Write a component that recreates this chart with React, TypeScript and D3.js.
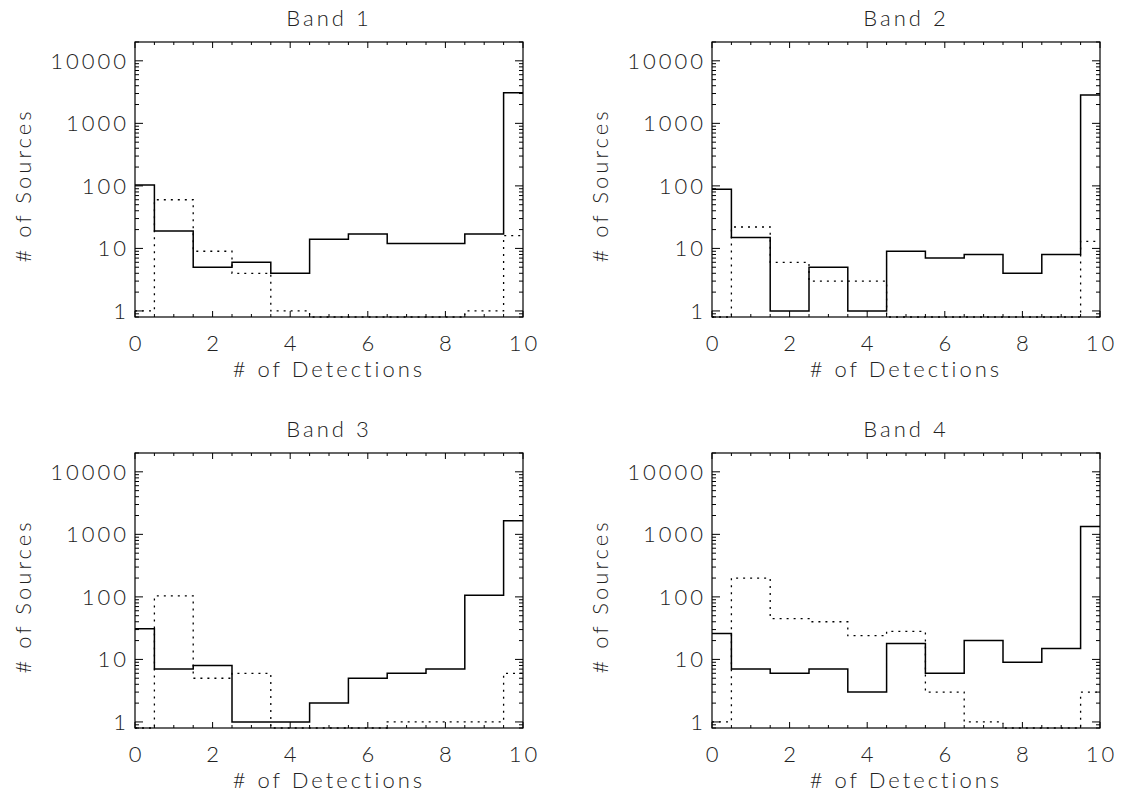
import React, { useEffect, useRef } from 'react';
import * as d3 from 'd3';

// number of detections (bin centres)
const detections = [0, 1, 2, 3, 4, 5, 6, 7, 8, 9, 10];
const xTicks = [0, 2, 4, 6, 8, 10];
const yTicks = [1, 10, 100, 1000, 10000];

const panelTitles = ['Band 1', 'Band 2', 'Band 3', 'Band 4'];

// solid histograms
const band1Solid = [103, 19, 5, 6, 4, 14, 17, 12, 12, 17, 3100];
const band2Solid = [88, 15, 1, 5, 1, 9, 7, 8, 4, 8, 2850];
const band3Solid = [31, 7, 8, 1, 1, 2, 5, 6, 7, 106, 1650];
const band4Solid = [26, 7, 6, 7, 3, 18, 6, 20, 9, 15, 1330];

// dotted histograms
const band1Dotted = [1, 60, 9, 4, 1, 0, 0, 0, 0, 1, 16];
const band2Dotted = [0, 22, 6, 3, 3, 0, 0, 0, 0, 0, 13];
const band3Dotted = [0, 104, 5, 6, 0, 0, 0, 1, 1, 1, 6];
const band4Dotted = [1, 200, 45, 40, 24, 28, 3, 1, 0, 0, 3];

const solidSeries = [band1Solid, band2Solid, band3Solid, band4Solid];
const dottedSeries = [band1Dotted, band2Dotted, band3Dotted, band4Dotted];

const FONT = 'Lato, "DejaVu Sans", sans-serif';

const App = () => {
  const svgRef = useRef<SVGSVGElement>(null);

  useEffect(() => {
    const svg = d3.select(svgRef.current);
    svg.selectAll('*').remove();

    const width = 388;
    const height = 275;
    const yMin = 0.8;
    const origins = [
      [135, 42],
      [712, 42],
      [135, 453],
      [712, 453],
    ];

    const xScale = d3.scaleLinear().domain([0, 10]).range([0, width]);
    const yScale = d3.scaleLog().domain([yMin, 20000]).range([height, 0]);

    // minor ticks
    const xMinor = d3.range(0, 10.01, 0.5).filter(v => v % 2 !== 0);
    const yMinor: number[] = [];
    [0.1, 1, 10, 100, 1000, 10000].forEach(d => {
      for (let k = 2; k <= 9; k++) {
        const v = d * k;
        if (v >= yMin && v <= 20000) yMinor.push(v);
      }
    });

    // histogram bin edges: half bins at each end
    const edges = detections.map((d, i) => (i === 0 ? 0 : d - 0.5)).concat([10]);

    const stepPath = (vals: number[]) => {
      const pts: [number, number][] = [];
      vals.forEach((v, i) => {
        const y = yScale(Math.max(v, yMin));
        pts.push([xScale(edges[i]), y]);
        pts.push([xScale(edges[i + 1]), y]);
      });
      return d3.line()(pts);
    };

    origins.forEach(([ox, oy], p) => {
      const g = svg.append('g').attr('transform', `translate(${ox}, ${oy})`);

      // frame
      g.append('rect')
        .attr('width', width)
        .attr('height', height)
        .attr('fill', 'none')
        .attr('stroke', '#000')
        .attr('stroke-width', 1.2);

      // x ticks bottom & top
      const tickG = g.append('g').attr('stroke', '#000').attr('stroke-width', 1);
      xTicks.forEach(t => {
        tickG.append('line').attr('x1', xScale(t)).attr('x2', xScale(t)).attr('y1', height).attr('y2', height - 6);
        tickG.append('line').attr('x1', xScale(t)).attr('x2', xScale(t)).attr('y1', 0).attr('y2', 6);
      });
      xMinor.forEach(t => {
        tickG.append('line').attr('x1', xScale(t)).attr('x2', xScale(t)).attr('y1', height).attr('y2', height - 3);
        tickG.append('line').attr('x1', xScale(t)).attr('x2', xScale(t)).attr('y1', 0).attr('y2', 3);
      });
      // y ticks left & right
      yTicks.forEach(t => {
        tickG.append('line').attr('x1', 0).attr('x2', 8).attr('y1', yScale(t)).attr('y2', yScale(t));
        tickG.append('line').attr('x1', width).attr('x2', width - 8).attr('y1', yScale(t)).attr('y2', yScale(t));
      });
      yMinor.forEach(t => {
        tickG.append('line').attr('x1', 0).attr('x2', 4).attr('y1', yScale(t)).attr('y2', yScale(t));
        tickG.append('line').attr('x1', width).attr('x2', width - 4).attr('y1', yScale(t)).attr('y2', yScale(t));
      });

      // tick labels
      g.selectAll('.xl')
        .data(xTicks)
        .enter()
        .append('text')
        .attr('x', d => xScale(d) + 1.5)
        .attr('y', height + 34)
        .attr('text-anchor', 'middle')
        .text(d => d);

      g.selectAll('.yl')
        .data(yTicks)
        .enter()
        .append('text')
        .attr('x', -6)
        .attr('y', d => yScale(d) + 8)
        .attr('text-anchor', 'end')
        .text(d => d);

      // titles
      g.append('text')
        .attr('x', width / 2)
        .attr('y', -16)
        .attr('text-anchor', 'middle')
        .text(panelTitles[p]);

      g.append('text')
        .attr('x', width / 2)
        .attr('y', height + 60)
        .attr('text-anchor', 'middle')
        .text('# of Detections');

      g.append('text')
        .attr('transform', 'rotate(-90)')
        .attr('x', -height / 2 - 6)
        .attr('y', -104)
        .attr('text-anchor', 'middle')
        .text('# of Sources');

      // histograms
      const hist = g.append('g');
      hist.append('path')
        .attr('d', stepPath(dottedSeries[p]))
        .attr('fill', 'none')
        .attr('stroke', '#000')
        .attr('stroke-width', 1.3)
        .attr('stroke-dasharray', '2,5');
      hist.append('path')
        .attr('d', stepPath(solidSeries[p]))
        .attr('fill', 'none')
        .attr('stroke', '#000')
        .attr('stroke-width', 1.5);
    });

    svg.selectAll('text')
      .style('font-family', FONT)
      .style('font-weight', 300)
      .style('font-size', '22px')
      .style('letter-spacing', '3px')
      .attr('fill', '#222');
  }, []);

  return (
    <svg
      ref={svgRef}
      width={1125}
      height={803}
      style={{ position: 'absolute', left: 0, top: 0, background: '#fff' }}
    />
  );
};

export default App;
